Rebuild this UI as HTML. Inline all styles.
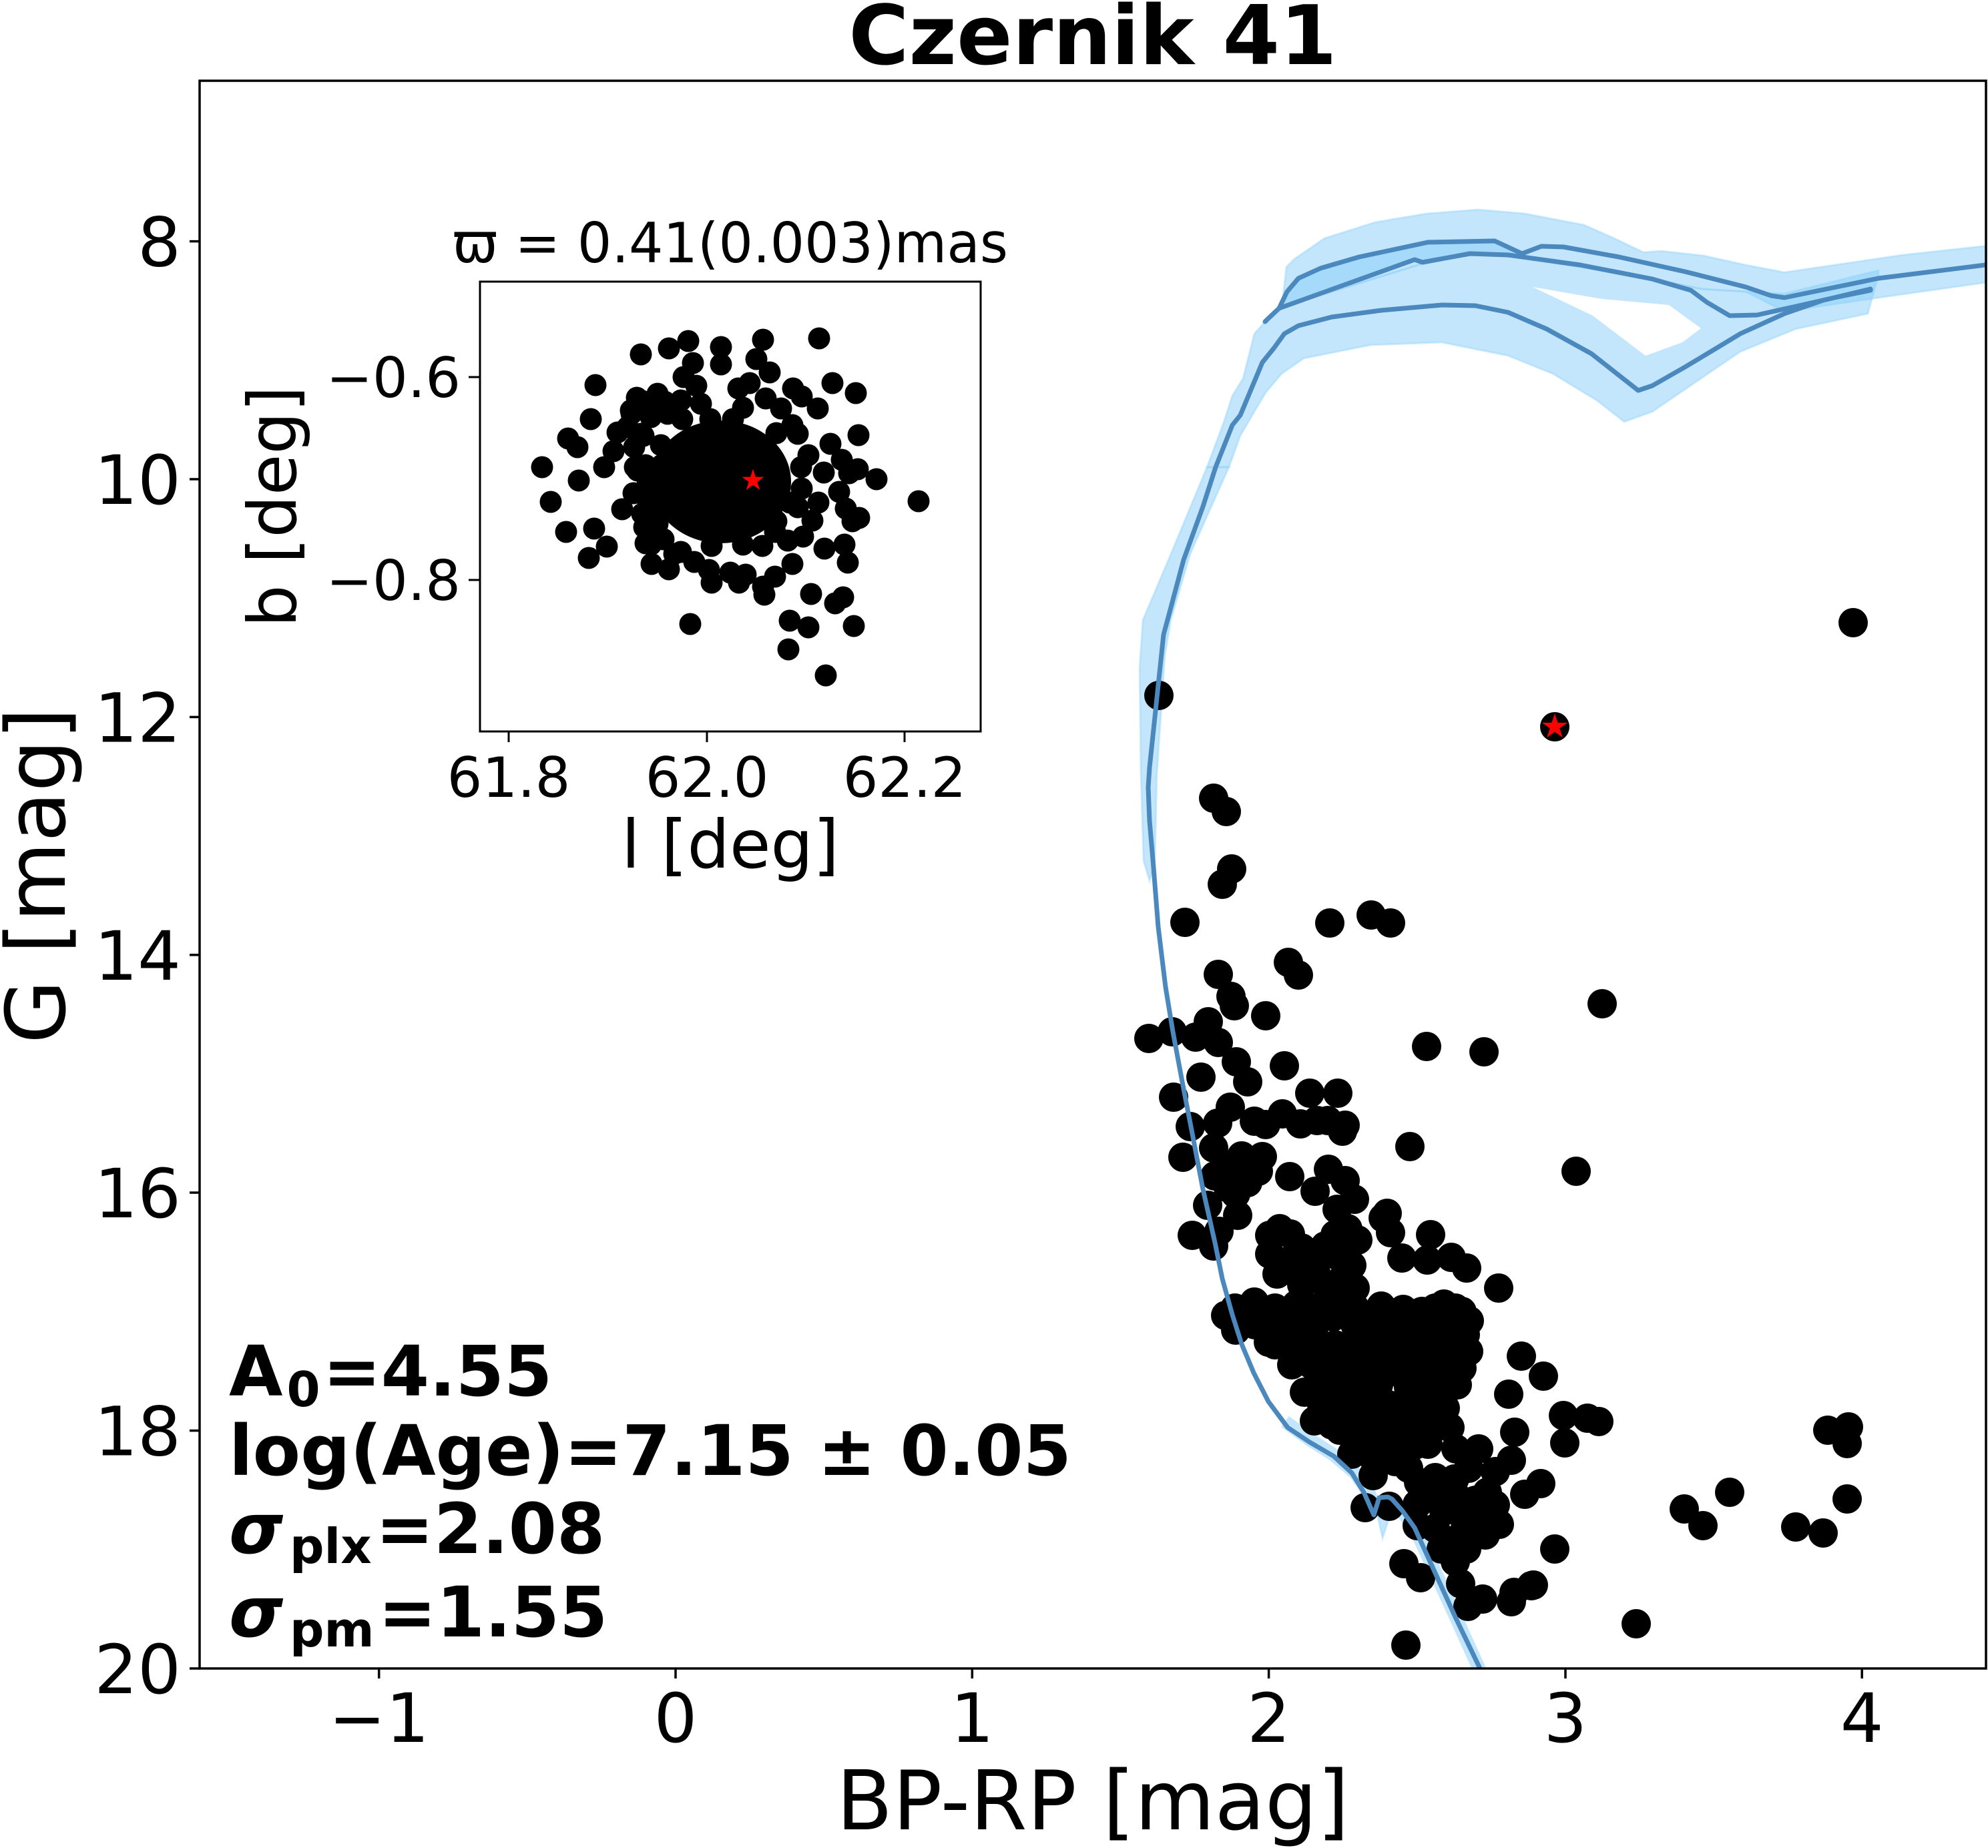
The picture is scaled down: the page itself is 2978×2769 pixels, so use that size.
<!DOCTYPE html>
<html><head><meta charset="utf-8"><style>html,body{margin:0;padding:0;background:#fff}svg{display:block}</style></head>
<body>
<svg xmlns="http://www.w3.org/2000/svg" width="2978" height="2769" viewBox="0 0 2978 2769" font-family="'DejaVu Sans','Liberation Sans',sans-serif">
<rect width="2978" height="2769" fill="#fff"/>
<defs>
<clipPath id="cm"><rect x="299" y="121" width="2676" height="2379"/></clipPath>
<polygon id="star" points="0,-20 4.49,-6.18 19.02,-6.18 7.27,2.36 11.76,16.18 0,7.64 -11.76,16.18 -7.27,2.36 -19.02,-6.18 -4.49,-6.18"/>
</defs>
<!-- title -->
<text x="1637" y="96" font-size="123" font-weight="bold" text-anchor="middle">Czernik 41</text>

<g clip-path="url(#cm)">
<!-- bands -->
<g fill="#87cefa" fill-opacity="0.5" stroke="#87cefa" stroke-opacity="0.35" stroke-width="3">
<polygon points="1927,400 1939,388 1984,357 2060,333 2137,320 2214,314 2284,320 2373,337 2418,357 2462,378 2488,376 2552,383 2615,397 2673,408 2850,382 2978,368 2978,423 2822,445 2673,467 2615,437 2549,433 2475,418 2367,400 2259,383 2202,382 2131,395 1937,455 1920,460"/>
<polygon points="1808,700 1833,633 1846,593 1862,567 1879,500 1895,482 1920,460 1937,455 2131,395 2202,382 2259,383 2367,400 2475,418 2549,433 2615,437 2673,440 2814,405 2814,412 2798,470 2690,493 2607,527 2475,617 2433,632 2392,600 2326,560 2259,533 2160,513 2053,517 1953,537 1920,560 1897,587 1883,610 1858,653 1841,700"/>
<polygon points="1916,462 1928,437 1945,417 1978,402 2036,385 2139,363 2239,361 2280,380 2259,382 2202,380 2131,393 2119,389 1920,460"/>
<polygon points="1808,700 1754,830 1712,929 1707,1000 1709,1161 1713,1290 1722,1320 1730,1290 1733,1161 1745,982 1754,929 1783,830 1841,700"/>
<polygon points="2060,2255 2071,2305 2085,2262"/>
</g>
<polygon points="2296,430 2400,448 2500,457 2548,492 2520,513 2465,533 2386,473" fill="#fff"/>
<path d="M1925,2130 L1962,2157 L1998,2180 L2030,2207 L2050,2236 L2062,2262 L2082,2252 L2103,2268 L2122,2295 L2152,2360 L2183,2428 L2220,2510" fill="none" stroke="#87cefa" stroke-opacity="0.5" stroke-width="20" stroke-linejoin="round"/>

<!-- main scatter -->
<g fill="#000">
<circle cx="1736" cy="1042" r="22"/><circle cx="2776" cy="933" r="22"/><circle cx="2329" cy="1089" r="22"/><circle cx="1818" cy="1196" r="22"/><circle cx="1837" cy="1216" r="22"/><circle cx="1845" cy="1302" r="22"/><circle cx="1831" cy="1325" r="22"/><circle cx="2400" cy="1504" r="22"/><circle cx="2361" cy="1755" r="22"/>
<circle cx="1775" cy="1382" r="22"/><circle cx="1992" cy="1383" r="22"/><circle cx="2054" cy="1371" r="22"/><circle cx="2083" cy="1383" r="22"/><circle cx="1930" cy="1442" r="22"/><circle cx="1945" cy="1461" r="22"/><circle cx="1825" cy="1460" r="22"/><circle cx="1844" cy="1493" r="22"/><circle cx="1849" cy="1507" r="22"/><circle cx="1896" cy="1522" r="22"/><circle cx="1810" cy="1531" r="22"/><circle cx="1721" cy="1556" r="22"/><circle cx="1756" cy="1546" r="22"/><circle cx="1791" cy="1554" r="22"/><circle cx="1825" cy="1562" r="22"/><circle cx="1852" cy="1591" r="22"/><circle cx="1869" cy="1621" r="22"/><circle cx="1799" cy="1614" r="22"/><circle cx="1924" cy="1597" r="22"/><circle cx="2137" cy="1568" r="22"/><circle cx="2223" cy="1576" r="22"/><circle cx="1758" cy="1644" r="22"/><circle cx="1962" cy="1638" r="22"/><circle cx="2004" cy="1638" r="22"/><circle cx="1843" cy="1659" r="22"/><circle cx="1783" cy="1688" r="22"/><circle cx="1824" cy="1683" r="22"/><circle cx="1879" cy="1680" r="22"/><circle cx="1896" cy="1685" r="22"/><circle cx="1921" cy="1669" r="22"/><circle cx="1948" cy="1684" r="22"/><circle cx="1973" cy="1679" r="22"/><circle cx="1989" cy="1679" r="22"/><circle cx="2015" cy="1686" r="22"/><circle cx="2011" cy="1695" r="22"/><circle cx="2112" cy="1718" r="22"/><circle cx="1772" cy="1734" r="22"/><circle cx="1818" cy="1720" r="22"/><circle cx="1860" cy="1732" r="22"/><circle cx="1891" cy="1733" r="22"/><circle cx="1820" cy="1762" r="22"/><circle cx="1869" cy="1772" r="22"/><circle cx="1851" cy="1789" r="22"/><circle cx="1932" cy="1763" r="22"/><circle cx="1990" cy="1752" r="22"/><circle cx="2015" cy="1769" r="22"/><circle cx="1970" cy="1785" r="22"/><circle cx="2029" cy="1797" r="22"/><circle cx="2003" cy="1812" r="22"/><circle cx="1809" cy="1806" r="22"/><circle cx="1854" cy="1821" r="22"/><circle cx="1826" cy="1845" r="22"/><circle cx="1786" cy="1851" r="22"/><circle cx="1818" cy="1867" r="22"/><circle cx="2078" cy="1818" r="22"/><circle cx="2072" cy="1825" r="22"/><circle cx="2083" cy="1847" r="22"/><circle cx="2143" cy="1850" r="22"/><circle cx="2019" cy="1841" r="22"/><circle cx="2034" cy="1858" r="22"/><circle cx="1917" cy="1841" r="22"/><circle cx="1933" cy="1849" r="22"/><circle cx="1902" cy="1851" r="22"/><circle cx="1985" cy="1867" r="22"/><circle cx="1902" cy="1879" r="22"/><circle cx="1931" cy="1889" r="22"/><circle cx="1962" cy="1894" r="22"/><circle cx="2025" cy="1896" r="22"/><circle cx="1913" cy="1909" r="22"/><circle cx="1973" cy="1912" r="22"/><circle cx="2014" cy="1911" r="22"/><circle cx="2100" cy="1885" r="22"/><circle cx="2138" cy="1888" r="22"/><circle cx="2174" cy="1884" r="22"/><circle cx="2197" cy="1900" r="22"/><circle cx="2245" cy="1930" r="22"/><circle cx="1879" cy="1951" r="22"/><circle cx="1836" cy="1971" r="22"/><circle cx="1942" cy="1955" r="22"/><circle cx="1997" cy="1973" r="22"/><circle cx="2069" cy="1957" r="22"/><circle cx="2102" cy="1962" r="22"/><circle cx="2130" cy="1965" r="22"/><circle cx="2163" cy="1954" r="22"/><circle cx="2190" cy="1965" r="22"/><circle cx="2201" cy="1979" r="22"/>
<circle cx="1845" cy="1745" r="22"/><circle cx="1885" cy="1755" r="22"/><circle cx="1840" cy="1780" r="22"/><circle cx="1950" cy="1870" r="22"/><circle cx="2000" cy="1850" r="22"/><circle cx="1950" cy="1925" r="22"/><circle cx="1990" cy="1935" r="22"/><circle cx="2030" cy="1930" r="22"/><circle cx="2000" cy="1880" r="22"/>
<circle cx="1851" cy="1993" r="22"/><circle cx="1900" cy="2011" r="22"/><circle cx="2074" cy="2021" r="22"/><circle cx="1945" cy="2036" r="22"/><circle cx="1954" cy="2086" r="22"/><circle cx="1969" cy="2129" r="22"/><circle cx="2007" cy="2143" r="22"/><circle cx="2025" cy="2179" r="22"/><circle cx="2057" cy="2211" r="22"/><circle cx="2101" cy="2179" r="22"/><circle cx="2139" cy="2164" r="22"/><circle cx="2146" cy="2114" r="22"/><circle cx="2172" cy="2139" r="22"/><circle cx="2181" cy="2171" r="22"/><circle cx="2183" cy="2075" r="22"/><circle cx="2195" cy="2000" r="22"/><circle cx="2110" cy="2079" r="22"/><circle cx="2052" cy="2100" r="22"/><circle cx="2096" cy="2057" r="22"/><circle cx="2279" cy="2032" r="22"/><circle cx="2312" cy="2062" r="22"/><circle cx="2260" cy="2089" r="22"/><circle cx="2342" cy="2121" r="22"/><circle cx="2378" cy="2125" r="22"/><circle cx="2395" cy="2130" r="22"/><circle cx="2269" cy="2146" r="22"/><circle cx="2344" cy="2162" r="22"/><circle cx="2264" cy="2188" r="22"/><circle cx="2215" cy="2171" r="22"/><circle cx="2125" cy="2221" r="22"/><circle cx="2150" cy="2214" r="22"/><circle cx="2179" cy="2216" r="22"/><circle cx="2228" cy="2236" r="22"/><circle cx="2210" cy="2248" r="22"/><circle cx="2308" cy="2223" r="22"/><circle cx="2284" cy="2239" r="22"/><circle cx="2246" cy="2284" r="22"/><circle cx="2163" cy="2264" r="22"/><circle cx="2123" cy="2254" r="22"/><circle cx="2123" cy="2286" r="22"/><circle cx="2159" cy="2321" r="22"/><circle cx="2197" cy="2321" r="22"/><circle cx="2103" cy="2343" r="22"/><circle cx="2128" cy="2364" r="22"/><circle cx="2188" cy="2373" r="22"/><circle cx="2221" cy="2396" r="22"/><circle cx="2199" cy="2407" r="22"/><circle cx="2264" cy="2400" r="22"/><circle cx="2297" cy="2375" r="22"/><circle cx="2268" cy="2386" r="22"/><circle cx="2294" cy="2376" r="22"/><circle cx="2329" cy="2321" r="22"/><circle cx="2106" cy="2465" r="22"/><circle cx="2045" cy="2259" r="22"/><circle cx="2081" cy="2257" r="22"/><circle cx="2451" cy="2433" r="22"/><circle cx="2591" cy="2236" r="22"/><circle cx="2523" cy="2261" r="22"/><circle cx="2551" cy="2286" r="22"/><circle cx="2690" cy="2288" r="22"/><circle cx="2731" cy="2297" r="22"/><circle cx="2767" cy="2246" r="22"/><circle cx="2738" cy="2143" r="22"/><circle cx="2769" cy="2138" r="22"/><circle cx="2767" cy="2163" r="22"/>
<!-- dense core -->
<circle cx="1850" cy="1960" r="22"/><circle cx="1880" cy="1960" r="22"/><circle cx="1910" cy="1960" r="22"/><circle cx="1970" cy="1960" r="22"/><circle cx="2000" cy="1960" r="22"/><circle cx="2030" cy="1960" r="22"/><circle cx="2150" cy="1960" r="22"/><circle cx="2180" cy="1960" r="22"/>
<circle cx="1880" cy="1985" r="22"/><circle cx="1910" cy="1985" r="22"/><circle cx="1940" cy="1985" r="22"/><circle cx="1970" cy="1985" r="22"/><circle cx="2030" cy="1985" r="22"/><circle cx="2060" cy="1985" r="22"/><circle cx="2090" cy="1985" r="22"/><circle cx="2120" cy="1985" r="22"/><circle cx="2150" cy="1985" r="22"/><circle cx="2180" cy="1985" r="22"/>
<circle cx="1910" cy="2015" r="22"/><circle cx="1940" cy="2015" r="22"/><circle cx="1970" cy="2015" r="22"/><circle cx="2000" cy="2015" r="22"/><circle cx="2030" cy="2015" r="22"/><circle cx="2060" cy="2015" r="22"/><circle cx="2090" cy="2015" r="22"/><circle cx="2120" cy="2015" r="22"/><circle cx="2150" cy="2015" r="22"/><circle cx="2180" cy="2015" r="22"/><circle cx="2200" cy="2025" r="22"/>
<circle cx="1935" cy="2045" r="22"/><circle cx="1965" cy="2045" r="22"/><circle cx="1995" cy="2045" r="22"/><circle cx="2025" cy="2045" r="22"/><circle cx="2055" cy="2045" r="22"/><circle cx="2085" cy="2045" r="22"/><circle cx="2115" cy="2045" r="22"/><circle cx="2145" cy="2045" r="22"/><circle cx="2175" cy="2045" r="22"/><circle cx="2190" cy="2050" r="22"/>
<circle cx="1975" cy="2075" r="22"/><circle cx="2005" cy="2075" r="22"/><circle cx="2035" cy="2075" r="22"/><circle cx="2065" cy="2075" r="22"/><circle cx="2140" cy="2075" r="22"/><circle cx="2170" cy="2080" r="22"/>
<circle cx="1980" cy="2105" r="22"/><circle cx="2010" cy="2105" r="22"/><circle cx="2040" cy="2105" r="22"/><circle cx="2080" cy="2105" r="22"/><circle cx="2110" cy="2105" r="22"/><circle cx="2140" cy="2105" r="22"/><circle cx="2165" cy="2110" r="22"/>
<circle cx="1995" cy="2135" r="22"/><circle cx="2025" cy="2135" r="22"/><circle cx="2055" cy="2135" r="22"/><circle cx="2085" cy="2135" r="22"/><circle cx="2115" cy="2135" r="22"/><circle cx="2145" cy="2140" r="22"/>
<circle cx="2030" cy="2165" r="22"/><circle cx="2060" cy="2165" r="22"/><circle cx="2090" cy="2165" r="22"/><circle cx="2120" cy="2165" r="22"/>
<circle cx="2060" cy="2190" r="22"/><circle cx="2090" cy="2190" r="22"/>
<circle cx="2110" cy="2200" r="22"/><circle cx="2200" cy="2200" r="22"/><circle cx="2240" cy="2205" r="22"/>
<circle cx="2150" cy="2240" r="22"/><circle cx="2180" cy="2240" r="22"/><circle cx="2240" cy="2255" r="22"/>
<circle cx="2190" cy="2270" r="22"/><circle cx="2215" cy="2275" r="22"/><circle cx="2150" cy="2290" r="22"/><circle cx="2190" cy="2300" r="22"/><circle cx="2225" cy="2300" r="22"/><circle cx="2180" cy="2340" r="22"/>
</g>

<!-- isochrone lines -->
<g fill="none" stroke="#4a88be" stroke-width="7" stroke-linejoin="round" stroke-linecap="round">
<path d="M2217,2500 L2181,2425 L2150,2357 L2119,2289 L2101,2264 L2085,2246 L2079,2243 L2066,2244 L2058,2270 L2043,2236 L2025,2207 L1998,2182 L1962,2161 L1929,2139 L1900,2100 L1878,2057 L1860,2014 L1846,1970 L1831,1916 L1820,1862 L1802,1782 L1784,1688 L1771,1621 L1757,1546 L1746,1479 L1735,1389 L1728,1300 L1722,1230 L1720,1180 L1722,1150 L1743,951 L1773,839 L1802,759 L1821,700 L1846,637 L1858,622 L1891,543 L1908,522 L1924,500 L1945,488 L1995,475 L2069,465 L2160,457 L2210,458 L2259,468 L2317,493 L2384,530 L2454,585 L2475,578 L2524,550 L2574,520 L2607,500 L2673,470 L2731,450 L2802,433"/>
<path d="M1895,482 L1899,478 L1916,462 L1928,437 L1945,417 L1978,402 L2036,385 L2139,363 L2239,361 L2280,380 L2309,369 L2342,370 L2425,385 L2524,407 L2615,430 L2653,443 L2673,446 L2814,417 L2990,395"/>
<path d="M1916,462 L2119,389 L2131,393 L2202,380 L2259,382 L2367,397 L2475,418 L2533,435 L2557,453 L2591,473 L2632,472 L2686,460 L2748,446 L2802,435"/>
</g>
<use href="#star" transform="translate(2329,1089)" fill="#ff0000"/>
</g>

<!-- main axes frame -->
<rect x="299" y="121" width="2676" height="2379" fill="none" stroke="#000" stroke-width="3.5"/>
<g stroke="#000" stroke-width="3.5">
<line x1="284" y1="361.6" x2="299" y2="361.6"/><line x1="284" y1="718" x2="299" y2="718"/><line x1="284" y1="1074.4" x2="299" y2="1074.4"/><line x1="284" y1="1430.8" x2="299" y2="1430.8"/><line x1="284" y1="1787" x2="299" y2="1787"/><line x1="284" y1="2143.6" x2="299" y2="2143.6"/><line x1="284" y1="2500" x2="299" y2="2500"/>
<line x1="567.7" y1="2500" x2="567.7" y2="2515"/><line x1="1012" y1="2500" x2="1012" y2="2515"/><line x1="1456.3" y1="2500" x2="1456.3" y2="2515"/><line x1="1900.6" y1="2500" x2="1900.6" y2="2515"/><line x1="2345" y1="2500" x2="2345" y2="2515"/><line x1="2789.2" y1="2500" x2="2789.2" y2="2515"/>
</g>
<g font-size="102" text-anchor="end">
<text x="271" y="398.6">8</text><text x="271" y="755">10</text><text x="271" y="1111.4">12</text><text x="271" y="1467.8">14</text><text x="271" y="1824">16</text><text x="271" y="2180.6">18</text><text x="271" y="2537">20</text>
</g>
<g font-size="102" text-anchor="middle">
<text x="567.7" y="2610">−1</text><text x="1012" y="2610">0</text><text x="1456.3" y="2610">1</text><text x="1900.6" y="2610">2</text><text x="2345" y="2610">3</text><text x="2789.2" y="2610">4</text>
</g>
<text x="1637" y="2741" font-size="123" text-anchor="middle">BP-RP [mag]</text>
<text transform="translate(97,1312) rotate(-90)" font-size="123" text-anchor="middle">G [mag]</text>

<!-- annotation box -->
<g font-size="104" font-weight="bold">
<text x="343" y="2091">A<tspan font-size="72" dy="16" dx="6">0</tspan><tspan dy="-16" dx="4">=4.55</tspan></text>
<text x="343" y="2210">log(Age)=7.15 ± 0.05</text>
<text x="343" y="2327"><tspan font-style="italic">σ</tspan><tspan font-size="72" dy="15" dx="10">plx</tspan><tspan dy="-15" dx="6">=2.08</tspan></text>
<text x="343" y="2452"><tspan font-style="italic">σ</tspan><tspan font-size="72" dy="15" dx="10">pm</tspan><tspan dy="-15" dx="6">=1.55</tspan></text>
</g>

<!-- inset -->
<rect x="719" y="422" width="750" height="674" fill="#fff"/>
<g fill="#000">
<ellipse cx="1080" cy="722" rx="105" ry="92"/>
<circle cx="945" cy="615" r="16.5"/><circle cx="975" cy="625" r="16.5"/><circle cx="960" cy="650" r="16.5"/><circle cx="1000" cy="620" r="16.5"/><circle cx="970" cy="720" r="16.5"/><circle cx="965" cy="790" r="16.5"/>
<circle cx="960" cy="600" r="16.5"/><circle cx="990" cy="610" r="16.5"/><circle cx="1020" cy="600" r="16.5"/><circle cx="1050" cy="605" r="16.5"/><circle cx="940" cy="640" r="16.5"/><circle cx="950" cy="670" r="16.5"/><circle cx="955" cy="705" r="16.5"/><circle cx="962" cy="740" r="16.5"/><circle cx="962" cy="770" r="16.5"/><circle cx="1010" cy="830" r="16.5"/><circle cx="1040" cy="842" r="16.5"/><circle cx="1195" cy="650" r="16.5"/><circle cx="1200" cy="700" r="16.5"/><circle cx="1195" cy="760" r="16.5"/><circle cx="1180" cy="810" r="16.5"/>
<circle cx="1227" cy="507" r="16.5"/><circle cx="1143" cy="509" r="16.5"/><circle cx="1031" cy="511" r="16.5"/><circle cx="1002" cy="522" r="16.5"/><circle cx="1080" cy="520" r="16.5"/><circle cx="960" cy="531" r="16.5"/><circle cx="1038" cy="544" r="16.5"/><circle cx="1080" cy="546" r="16.5"/><circle cx="1133" cy="538" r="16.5"/><circle cx="1153" cy="558" r="16.5"/><circle cx="1024" cy="565" r="16.5"/><circle cx="1043" cy="578" r="16.5"/><circle cx="892" cy="577" r="16.5"/><circle cx="1106" cy="582" r="16.5"/><circle cx="1123" cy="574" r="16.5"/><circle cx="1188" cy="582" r="16.5"/><circle cx="1247" cy="574" r="16.5"/><circle cx="1282" cy="589" r="16.5"/><circle cx="1147" cy="597" r="16.5"/><circle cx="1201" cy="594" r="16.5"/><circle cx="1225" cy="612" r="16.5"/><circle cx="1170" cy="612" r="16.5"/><circle cx="1113" cy="611" r="16.5"/><circle cx="954" cy="596" r="16.5"/><circle cx="985" cy="590" r="16.5"/><circle cx="996" cy="602" r="16.5"/><circle cx="946" cy="620" r="16.5"/><circle cx="885" cy="628" r="16.5"/><circle cx="925" cy="648" r="16.5"/><circle cx="851" cy="657" r="16.5"/><circle cx="865" cy="670" r="16.5"/><circle cx="919" cy="676" r="16.5"/><circle cx="905" cy="700" r="16.5"/><circle cx="812" cy="700" r="16.5"/><circle cx="867" cy="720" r="16.5"/><circle cx="825" cy="752" r="16.5"/><circle cx="932" cy="763" r="16.5"/><circle cx="949" cy="739" r="16.5"/><circle cx="951" cy="700" r="16.5"/><circle cx="967" cy="697" r="16.5"/><circle cx="991" cy="697" r="16.5"/><circle cx="964" cy="653" r="16.5"/><circle cx="990" cy="667" r="16.5"/><circle cx="1022" cy="628" r="16.5"/><circle cx="1064" cy="628" r="16.5"/><circle cx="1098" cy="628" r="16.5"/><circle cx="1187" cy="637" r="16.5"/><circle cx="1163" cy="649" r="16.5"/><circle cx="1286" cy="652" r="16.5"/><circle cx="1244" cy="665" r="16.5"/><circle cx="1211" cy="682" r="16.5"/><circle cx="1261" cy="689" r="16.5"/><circle cx="1285" cy="703" r="16.5"/><circle cx="1272" cy="709" r="16.5"/><circle cx="1234" cy="708" r="16.5"/><circle cx="1313" cy="718" r="16.5"/><circle cx="1376" cy="751" r="16.5"/><circle cx="1257" cy="737" r="16.5"/><circle cx="1267" cy="762" r="16.5"/><circle cx="1287" cy="776" r="16.5"/><circle cx="1277" cy="781" r="16.5"/><circle cx="1226" cy="753" r="16.5"/><circle cx="1217" cy="780" r="16.5"/><circle cx="1203" cy="804" r="16.5"/><circle cx="1201" cy="732" r="16.5"/><circle cx="1183" cy="753" r="16.5"/><circle cx="1163" cy="781" r="16.5"/><circle cx="1161" cy="797" r="16.5"/><circle cx="1142" cy="818" r="16.5"/><circle cx="1113" cy="816" r="16.5"/><circle cx="1066" cy="818" r="16.5"/><circle cx="1020" cy="827" r="16.5"/><circle cx="975" cy="816" r="16.5"/><circle cx="994" cy="808" r="16.5"/><circle cx="976" cy="845" r="16.5"/><circle cx="1002" cy="853" r="16.5"/><circle cx="1062" cy="854" r="16.5"/><circle cx="1066" cy="873" r="16.5"/><circle cx="1094" cy="858" r="16.5"/><circle cx="1117" cy="861" r="16.5"/><circle cx="1107" cy="873" r="16.5"/><circle cx="1161" cy="864" r="16.5"/><circle cx="1187" cy="845" r="16.5"/><circle cx="1145" cy="891" r="16.5"/><circle cx="1143" cy="879" r="16.5"/><circle cx="1215" cy="890" r="16.5"/><circle cx="1251" cy="904" r="16.5"/><circle cx="1263" cy="895" r="16.5"/><circle cx="1235" cy="822" r="16.5"/><circle cx="1265" cy="816" r="16.5"/><circle cx="1270" cy="843" r="16.5"/><circle cx="1183" cy="930" r="16.5"/><circle cx="1211" cy="940" r="16.5"/><circle cx="1279" cy="938" r="16.5"/><circle cx="1181" cy="973" r="16.5"/><circle cx="1237" cy="1012" r="16.5"/><circle cx="1034" cy="935" r="16.5"/><circle cx="848" cy="797" r="16.5"/><circle cx="890" cy="792" r="16.5"/><circle cx="909" cy="819" r="16.5"/><circle cx="882" cy="836" r="16.5"/><circle cx="967" cy="814" r="16.5"/><circle cx="981" cy="770" r="16.5"/><circle cx="985" cy="785" r="16.5"/><circle cx="972" cy="755" r="16.5"/>
</g>
<use href="#star" transform="translate(1128,720) scale(0.87)" fill="#ff0000"/>
<rect x="719" y="422" width="750" height="674" fill="none" stroke="#000" stroke-width="3"/>
<g stroke="#000" stroke-width="3">
<line x1="702" y1="565" x2="719" y2="565"/><line x1="702" y1="869" x2="719" y2="869"/>
<line x1="762" y1="1096" x2="762" y2="1112"/><line x1="1059" y1="1096" x2="1059" y2="1112"/><line x1="1355" y1="1096" x2="1355" y2="1112"/>
</g>
<g font-size="83">
<text x="690" y="595" text-anchor="end">−0.6</text>
<text x="690" y="899" text-anchor="end">−0.8</text>
<text x="762" y="1194" text-anchor="middle">61.8</text>
<text x="1059" y="1194" text-anchor="middle">62.0</text>
<text x="1355" y="1194" text-anchor="middle">62.2</text>
<text x="678" y="393" textLength="832" lengthAdjust="spacingAndGlyphs">ϖ = 0.41(0.003)mas</text>
</g>
<text x="1094" y="1300" font-size="100" text-anchor="middle">l [deg]</text>
<text transform="translate(443,759) rotate(-90)" font-size="100" text-anchor="middle">b [deg]</text>
</svg>
</body></html>
